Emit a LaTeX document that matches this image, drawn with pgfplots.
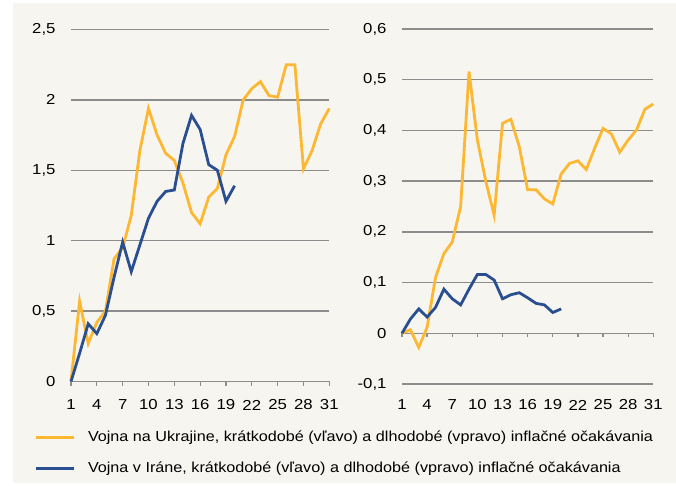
\documentclass[border=0pt]{standalone}
\usepackage{pgfplots}
\pgfplotsset{compat=1.18}
\usepackage{fontspec}
\setmainfont{Liberation Sans}
\newfontfamily\tickfont[FakeStretch=1.16]{Liberation Sans}
\newfontfamily\legfont[FakeStretch=1.12]{Liberation Sans}
\definecolor{ukr}{RGB}{253,184,51}
\definecolor{irn}{RGB}{41,79,145}
\definecolor{bg}{RGB}{247,245,240}
\definecolor{grd}{RGB}{140,140,140}

\pgfplotstableread{
x y
1 0
2 0.57
3 0.27
4 0.42
5 0.50
6 0.87
7 0.95
8 1.18
9 1.64
10 1.94
11 1.75
12 1.62
13 1.57
14 1.41
15 1.20
16 1.12
17 1.31
18 1.37
19 1.61
20 1.74
21 2.00
22 2.08
23 2.13
24 2.03
25 2.02
26 2.25
27 2.25
28 1.51
29 1.64
30 1.83
31 1.94
}\ukrshort

\pgfplotstableread{
x y
1 0
2 0.20
3 0.41
4 0.34
5 0.47
6 0.74
7 0.99
8 0.78
9 0.97
10 1.16
11 1.28
12 1.35
13 1.36
14 1.69
15 1.89
16 1.79
17 1.54
18 1.50
19 1.28
20 1.39
}\irnshort

\pgfplotstableread{
x y
1 0
2 0.007
3 -0.028
4 0.012
5 0.110
6 0.157
7 0.180
8 0.250
9 0.516
10 0.381
11 0.300
12 0.233
13 0.414
14 0.422
15 0.368
16 0.283
17 0.283
18 0.265
19 0.255
20 0.314
21 0.335
22 0.340
23 0.323
24 0.365
25 0.404
26 0.393
27 0.357
28 0.381
29 0.401
30 0.442
31 0.452
}\ukrlong

\pgfplotstableread{
x y
1 0
2 0.028
3 0.048
4 0.032
5 0.051
6 0.087
7 0.068
8 0.056
9 0.087
10 0.116
11 0.116
12 0.105
13 0.068
14 0.076
15 0.080
16 0.070
17 0.059
18 0.056
19 0.041
20 0.048
}\irnlong

\pgfplotsset{
  mystyle/.style={
    scale only axis,
    xmin=1, xmax=31, xtick={1,4,...,31},
    axis x line*=bottom, axis y line*=left,
    x axis line style={draw=none}, y axis line style={draw=none},
    major tick length=0pt,
    ymajorgrids, grid style={grd, line width=1.3bp},
    tick label style={font=\tickfont\fontsize{14.5}{16}\selectfont},
    /pgf/number format/assume math mode=true,
    /pgf/number format/use comma,
    scaled y ticks=false,
    yticklabel style={anchor=east, xshift=-12bp},
    clip=false,
  },
  ser/.style={line width=2.8bp, sharp plot, no markers},
}

\begin{document}
\begin{tikzpicture}
\path[use as bounding box] (0bp,0bp) rectangle (676bp,486bp);
\fill[white] (0bp,0bp) rectangle (676bp,486bp);
\fill[bg] (13bp,3bp) rectangle (676bp,483bp);

\begin{axis}[mystyle,
  at={(71bp,104.5bp)}, anchor=south west,
  width=258.3bp, height=352bp,
  ymin=0, ymax=2.5, ytick={0,0.5,1,1.5,2,2.5},
  xticklabel style={anchor=center, yshift=-23.5bp},
  legend style={draw=none, fill=none, at={(-0.1432,-0.1405)}, anchor=north west,
    font=\legfont\fontsize{14.5}{16}\selectfont, row sep=19bp,
    inner sep=0pt, outer sep=0pt,
    nodes={inner sep=0pt, outer sep=0pt},
    /tikz/every odd column/.append style={column sep=13bp}},
  legend cell align=left,
  legend image code/.code={\draw[#1, line width=3bp] (0bp,0bp) -- (38bp,0bp);},
]
\pgfplotsinvokeforeach{1,4,7,10,13,16,19,22,25,28,31}{
  \draw[grd, line width=1.3bp] (axis cs:#1,0) -- ([yshift=-4bp]axis cs:#1,0);
}
\addplot[ser, ukr] table[x=x,y=y] {\ukrshort};
\addlegendentry{Vojna na Ukrajine, krátkodobé (vľavo) a dlhodobé (vpravo) inflačné očakávania}
\addplot[ser, irn] table[x=x,y=y] {\irnshort};
\addlegendentry{Vojna v Iráne, krátkodobé (vľavo) a dlhodobé (vpravo) inflačné očakávania}
\end{axis}

\begin{axis}[mystyle,
  at={(402bp,102bp)}, anchor=south west,
  width=251.3bp, height=355bp,
  ymin=-0.1, ymax=0.6, ytick={-0.1,0,0.1,0.2,0.3,0.4,0.5,0.6},
  xticklabel style={anchor=center, yshift=-21bp},
]
\pgfplotsinvokeforeach{1,4,7,10,13,16,19,22,25,28,31}{
  \draw[grd, line width=1.3bp] (axis cs:#1,0) -- ([yshift=-4bp]axis cs:#1,0);
}
\addplot[ser, ukr] table[x=x,y=y] {\ukrlong};
\addplot[ser, irn] table[x=x,y=y] {\irnlong};
\end{axis}
\end{tikzpicture}
\end{document}
